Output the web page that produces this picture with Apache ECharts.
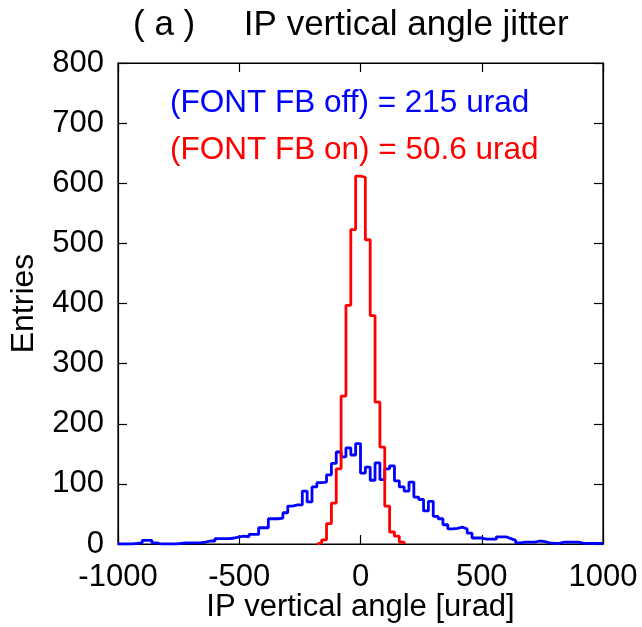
<!DOCTYPE html>
<html>
<head>
<meta charset="utf-8">
<script src="https://cdn.jsdelivr.net/npm/echarts@6/dist/echarts.min.js"></script>
<style>html,body{margin:0;padding:0;background:#fff;}#c{width:642px;height:627px;}</style>
</head>
<body>
<div id="c"></div>
<script>
// Histogram bins: 20 urad wide
const binWidth = 20;
// Blue: FONT FB off, bins from -1000 to 1000 (left edges)
const blueStart = -1000;
const blueValues = [
  0, 0, 0, 1, 2, 6, 6, 2, 0, 0,
  0, 0, 1, 2, 2, 2, 2, 3, 5, 5,
  9, 9, 9, 10, 12, 13, 12, 16, 16, 27,
  27, 42, 42, 43, 52, 63, 65, 65, 88, 70,
  95, 102, 103, 115, 134, 153, 145, 160, 148, 167,
  118, 128, 106, 135, 107, 125, 130, 105, 95, 88,
  103, 78, 74, 55, 71, 46, 42, 32, 25, 26,
  28, 25, 18, 10, 10, 8, 8, 8, 12, 12,
  9, 6, 2, 3, 3, 3, 5, 4, 2, 1,
  1, 3, 3, 3, 3, 1, 1, 1, 1, 1
];
// Red: FONT FB on, bins from -180 to 180 (left edges)
const redStart = -180;
const redValues = [2, 7, 34, 68, 125, 246, 397, 523, 612, 610, 506, 380, 236, 161, 63, 20, 13, 3];

const xTicks = [-1000, -500, 0, 500, 1000];
const yTicks = [0, 100, 200, 300, 400, 500, 600, 700, 800];

const titleText = '( a )     IP vertical angle jitter';
const label1 = '(FONT FB off) = 215 urad';
const label2 = '(FONT FB on) = 50.6 urad';

function stepPoints(start, vals, dropEnds) {
  const pts = [];
  if (dropEnds) pts.push([start, 0]);
  vals.forEach((v, i) => pts.push([start + i * binWidth, v]));
  const end = start + vals.length * binWidth;
  pts.push([end, vals[vals.length - 1]]);
  if (dropEnds) pts.push([end, 0]);
  return pts;
}

const FONT = 'Liberation Sans, Arial, sans-serif';
const chart = echarts.init(document.getElementById('c'), null, {renderer: 'canvas'});
const axisCommon = {
  axisLine: {show: true, onZero: false, lineStyle: {color: '#000', width: 1.2}},
  axisTick: {show: true, inside: true, length: 9, lineStyle: {color: '#000', width: 1.2}},
  splitLine: {show: false}
};
const plain = v => String(v);
chart.setOption({
  animation: false,
  backgroundColor: '#fff',
  title: [
    {text: titleText, left: 128, top: 3, textStyle: {fontFamily: FONT, fontSize: 35, fontWeight: 'normal', color: '#000'}},
    {text: label1, left: 165, top: 82, textStyle: {fontFamily: FONT, fontSize: 31.5, fontWeight: 'normal', color: '#0000ff'}},
    {text: label2, left: 165, top: 129, textStyle: {fontFamily: FONT, fontSize: 31.5, fontWeight: 'normal', color: '#ff0000'}}
  ],
  grid: {left: 118, right: 39, top: 63, bottom: 83, show: true, borderColor: '#000', borderWidth: 1.2, containLabel: false, outerBoundsMode: 'none'},
  xAxis: [
    Object.assign({}, axisCommon, {
      type: 'value', min: xTicks[0], max: xTicks[xTicks.length - 1], interval: 500, position: 'bottom',
      name: 'IP vertical angle [urad]', nameLocation: 'middle', nameGap: 48, nameMoveOverlap: false,
      nameTextStyle: {fontFamily: FONT, fontSize: 31, color: '#000', verticalAlign: 'top'},
      axisLabel: {fontFamily: FONT, fontSize: 31, color: '#000', margin: 18, formatter: plain}
    }),
    Object.assign({}, axisCommon, {
      type: 'value', min: -1000, max: 1000, interval: 500, position: 'top',
      axisLabel: {show: false}
    })
  ],
  yAxis: [
    Object.assign({}, axisCommon, {
      type: 'value', min: yTicks[0], max: yTicks[yTicks.length - 1], interval: 100, position: 'left',
      name: 'Entries', nameLocation: 'middle', nameGap: 78, nameRotate: 90, nameMoveOverlap: false,
      nameTextStyle: {fontFamily: FONT, fontSize: 32, color: '#000'},
      axisLabel: {fontFamily: FONT, fontSize: 31, color: '#000', margin: 14, formatter: plain}
    }),
    Object.assign({}, axisCommon, {
      type: 'value', min: 0, max: 800, interval: 100, position: 'right',
      axisLabel: {show: false}
    })
  ],
  series: [
    {
      type: 'line', name: 'off', step: 'end', showSymbol: false, symbol: 'none',
      data: stepPoints(blueStart, blueValues, false),
      lineStyle: {color: '#0000ff', width: 2.8}, z: 3
    },
    {
      type: 'line', name: 'on', step: 'end', showSymbol: false, symbol: 'none',
      data: stepPoints(redStart, redValues, true),
      lineStyle: {color: '#ff0000', width: 2.8}, z: 4
    }
  ]
});
</script>
</body>
</html>
